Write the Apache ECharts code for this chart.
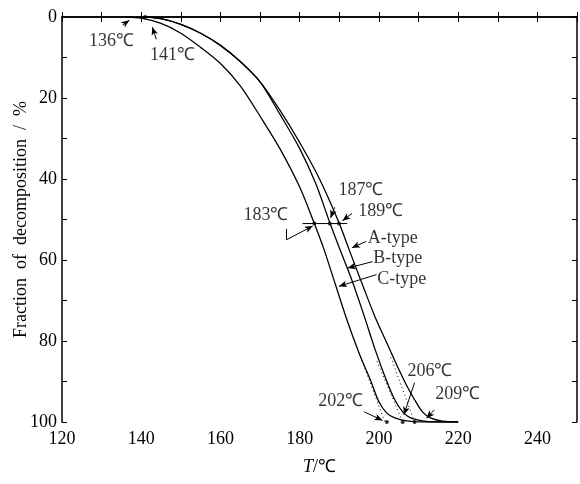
<!DOCTYPE html>
<html>
<head>
<meta charset="utf-8">
<script src="https://cdn.jsdelivr.net/npm/echarts@6/dist/echarts.min.js"></script>
<style>
  html, body { margin: 0; padding: 0; background: #fff; }
  #chart { width: 580px; height: 484px; }
</style>
</head>
<body>
<div id="chart"></div>
<script>
// decomposition curves, temperature in ℃ vs fraction decomposed in %
const tempA = [141, 145, 150, 155, 160, 165, 170, 175, 180, 185, 189.8, 192.5, 196, 199, 202, 205, 207, 209, 211, 213, 216, 220]
const fracA = [0, 0.4, 1.8, 4, 7, 11, 16, 23, 31, 40, 50.5, 57.5, 66.5, 74, 80.5, 87, 91, 94.5, 97.5, 99, 99.8, 100]
const tempB = [141, 145, 150, 155, 160, 165, 170, 175, 180, 184, 187.5, 190, 193, 196, 199, 202, 204, 206, 208, 211, 215, 220]
const fracB = [0, 0.4, 1.8, 4, 7, 11, 16, 24, 32.5, 41, 50.5, 57, 64.5, 73, 82, 90, 94.5, 97.5, 99, 99.7, 100, 100]
const tempC = [136, 140, 145, 150, 155, 160, 165, 170, 175, 180, 183.5, 186, 189, 192, 195, 198, 200, 202, 204, 207, 212, 220]
const fracC = [0, 0.3, 1.6, 4, 7.5, 11.5, 17, 24.5, 32.5, 42, 50.5, 57, 66, 75, 83, 90, 95, 97.8, 99, 99.7, 100, 100]

// extrapolated tangent ends (dotted) and onset / end points
const tangentC = [[195, 83], [201.5, 100]]
const tangentB = [[199.5, 85], [206, 100]]
const tangentA = [[203, 84], [209, 100]]
const endPoints = [[141, 0], [202, 100], [206, 100], [209, 100]]

// half-decomposition marker
const halfLine = [[180.7, 51], [192, 51]]
const halfPoints = [[183.7, 51], [187.6, 51], [189.9, 51]]

// tick labels
const xLabels = [120, 140, 160, 180, 200, 220, 240]
const yLabels = [0, 20, 40, 60, 80, 100]

// annotations: text, anchor [T, %]
const noteText = ['136℃', '141℃', '183℃', '187℃', '189℃', 'A-type', 'B-type', 'C-type', '202℃', '206℃', '209℃']
const notePos = [[132.6, 6], [148, 9.5], [171.6, 49], [195.6, 42.8], [200.6, 48.2], [203.6, 54.7], [204.9, 59.6], [205.9, 65], [190.5, 95], [213, 87.7], [220, 93.3]]
// arrows: from, to
const arrowFrom = [[135.3, 2], [143.8, 5.5], [176.7, 55], [188.8, 47], [193.2, 48.5], [196.8, 55.4], [198.4, 60.4], [199.4, 63.6], [196.3, 97.5], [209, 90.3], [214, 97]]
const arrowTo = [[137, 0.8], [142.8, 2.5], [183.3, 51.6], [187.8, 49.6], [190.8, 50.3], [193.2, 57], [192.1, 62], [189.9, 66.5], [200.9, 99.6], [206.3, 98.2], [212, 99.1]]

const FONT = 'Liberation Serif'
const BLACK = '#000'

const pairs = (t, f) => t.map((v, i) => [v, f[i]])

const chart = echarts.init(document.getElementById('chart'))

const curveStyle = {
  type: 'line', showSymbol: false, smooth: 0.3, silent: true,
  lineStyle: { color: BLACK, width: 1.3 }
}
const dotted = {
  type: 'line', showSymbol: false, silent: true,
  lineStyle: { color: BLACK, width: 1, type: [1, 3] }
}

const arrowLines = arrowFrom.map((p, i) => [
  { coord: p, symbol: 'none' },
  { coord: arrowTo[i], symbol: 'arrow', symbolSize: [5, 8] }
])
// little hook on the 183 arrow
arrowLines.push([{ coord: [176.7, 52.3], symbol: 'none' }, { coord: [176.7, 55], symbol: 'none' }])

const tickAxisX = (pos, withLabels) => ({
  type: 'value', position: pos, min: 120, max: 250, interval: 10,
  axisLine: { show: true, lineStyle: { color: BLACK, width: 1.5 } },
  axisTick: { show: true, inside: true, length: 5, lineStyle: { color: BLACK } },
  splitLine: { show: false },
  axisLabel: {
    show: withLabels, color: BLACK, fontFamily: FONT, fontSize: 18, margin: 8,
    formatter: v => xLabels.includes(v) ? String(v) : ''
  }
})
const tickAxisY = (pos, withLabels) => ({
  type: 'value', position: pos, min: 0, max: 100, interval: 10, inverse: true,
  axisLine: { show: true, lineStyle: { color: BLACK, width: 1.5 } },
  axisTick: { show: true, inside: true, length: 5, lineStyle: { color: BLACK } },
  splitLine: { show: false },
  axisLabel: {
    show: withLabels, color: BLACK, fontFamily: FONT, fontSize: 18, margin: 5,
    formatter: v => yLabels.includes(v) ? String(v) : ''
  }
})

const xMain = tickAxisX('bottom', true)
xMain.name = '{i|T}/℃'
xMain.nameLocation = 'middle'
xMain.nameGap = 36
xMain.nameMoveOverlap = false
xMain.nameTextStyle = {
  color: BLACK, fontFamily: FONT, fontSize: 18,
  rich: { i: { fontFamily: FONT, fontSize: 18, fontStyle: 'italic', color: BLACK } }
}
const yMain = tickAxisY('left', true)
yMain.name = 'Fraction\u2002of\u2002decomposition\u2002/\u2002%'
yMain.nameLocation = 'middle'
yMain.nameGap = 32
yMain.nameMoveOverlap = false
yMain.nameTextStyle = { color: BLACK, fontFamily: FONT, fontSize: 18 }

chart.setOption({
  animation: false,
  backgroundColor: '#fff',
  grid: { left: 62, right: 3, top: 17, bottom: 62, containLabel: false, outerBoundsMode: 'none' },
  xAxis: [xMain, tickAxisX('top', false)],
  yAxis: [yMain, tickAxisY('right', false)],
  series: [
    Object.assign({ name: 'A-type', data: pairs(tempA, fracA) }, curveStyle),
    Object.assign({ name: 'B-type', data: pairs(tempB, fracB) }, curveStyle),
    Object.assign({ name: 'C-type', data: pairs(tempC, fracC) }, curveStyle),
    Object.assign({ data: tangentA }, dotted),
    Object.assign({ data: tangentB }, dotted),
    Object.assign({ data: tangentC }, dotted),
    {
      type: 'line', data: halfLine, showSymbol: false, silent: true,
      lineStyle: { color: BLACK, width: 1 }
    },
    {
      type: 'scatter', data: endPoints.concat(halfPoints), symbolSize: 4, silent: true,
      itemStyle: { color: BLACK }
    },
    {
      type: 'scatter', symbolSize: 1, silent: true,
      itemStyle: { color: 'rgba(0,0,0,0)' },
      data: noteText.map((t, i) => ({ name: t, value: notePos[i] })),
      label: {
        show: true, position: [0, 0], align: 'center', verticalAlign: 'middle',
        formatter: '{b}', color: BLACK, fontFamily: FONT, fontSize: 18
      },
      markLine: {
        silent: true, animation: false,
        lineStyle: { color: BLACK, width: 1, type: 'solid' },
        label: { show: false },
        data: arrowLines
      }
    }
  ]
})
</script>
</body>
</html>
